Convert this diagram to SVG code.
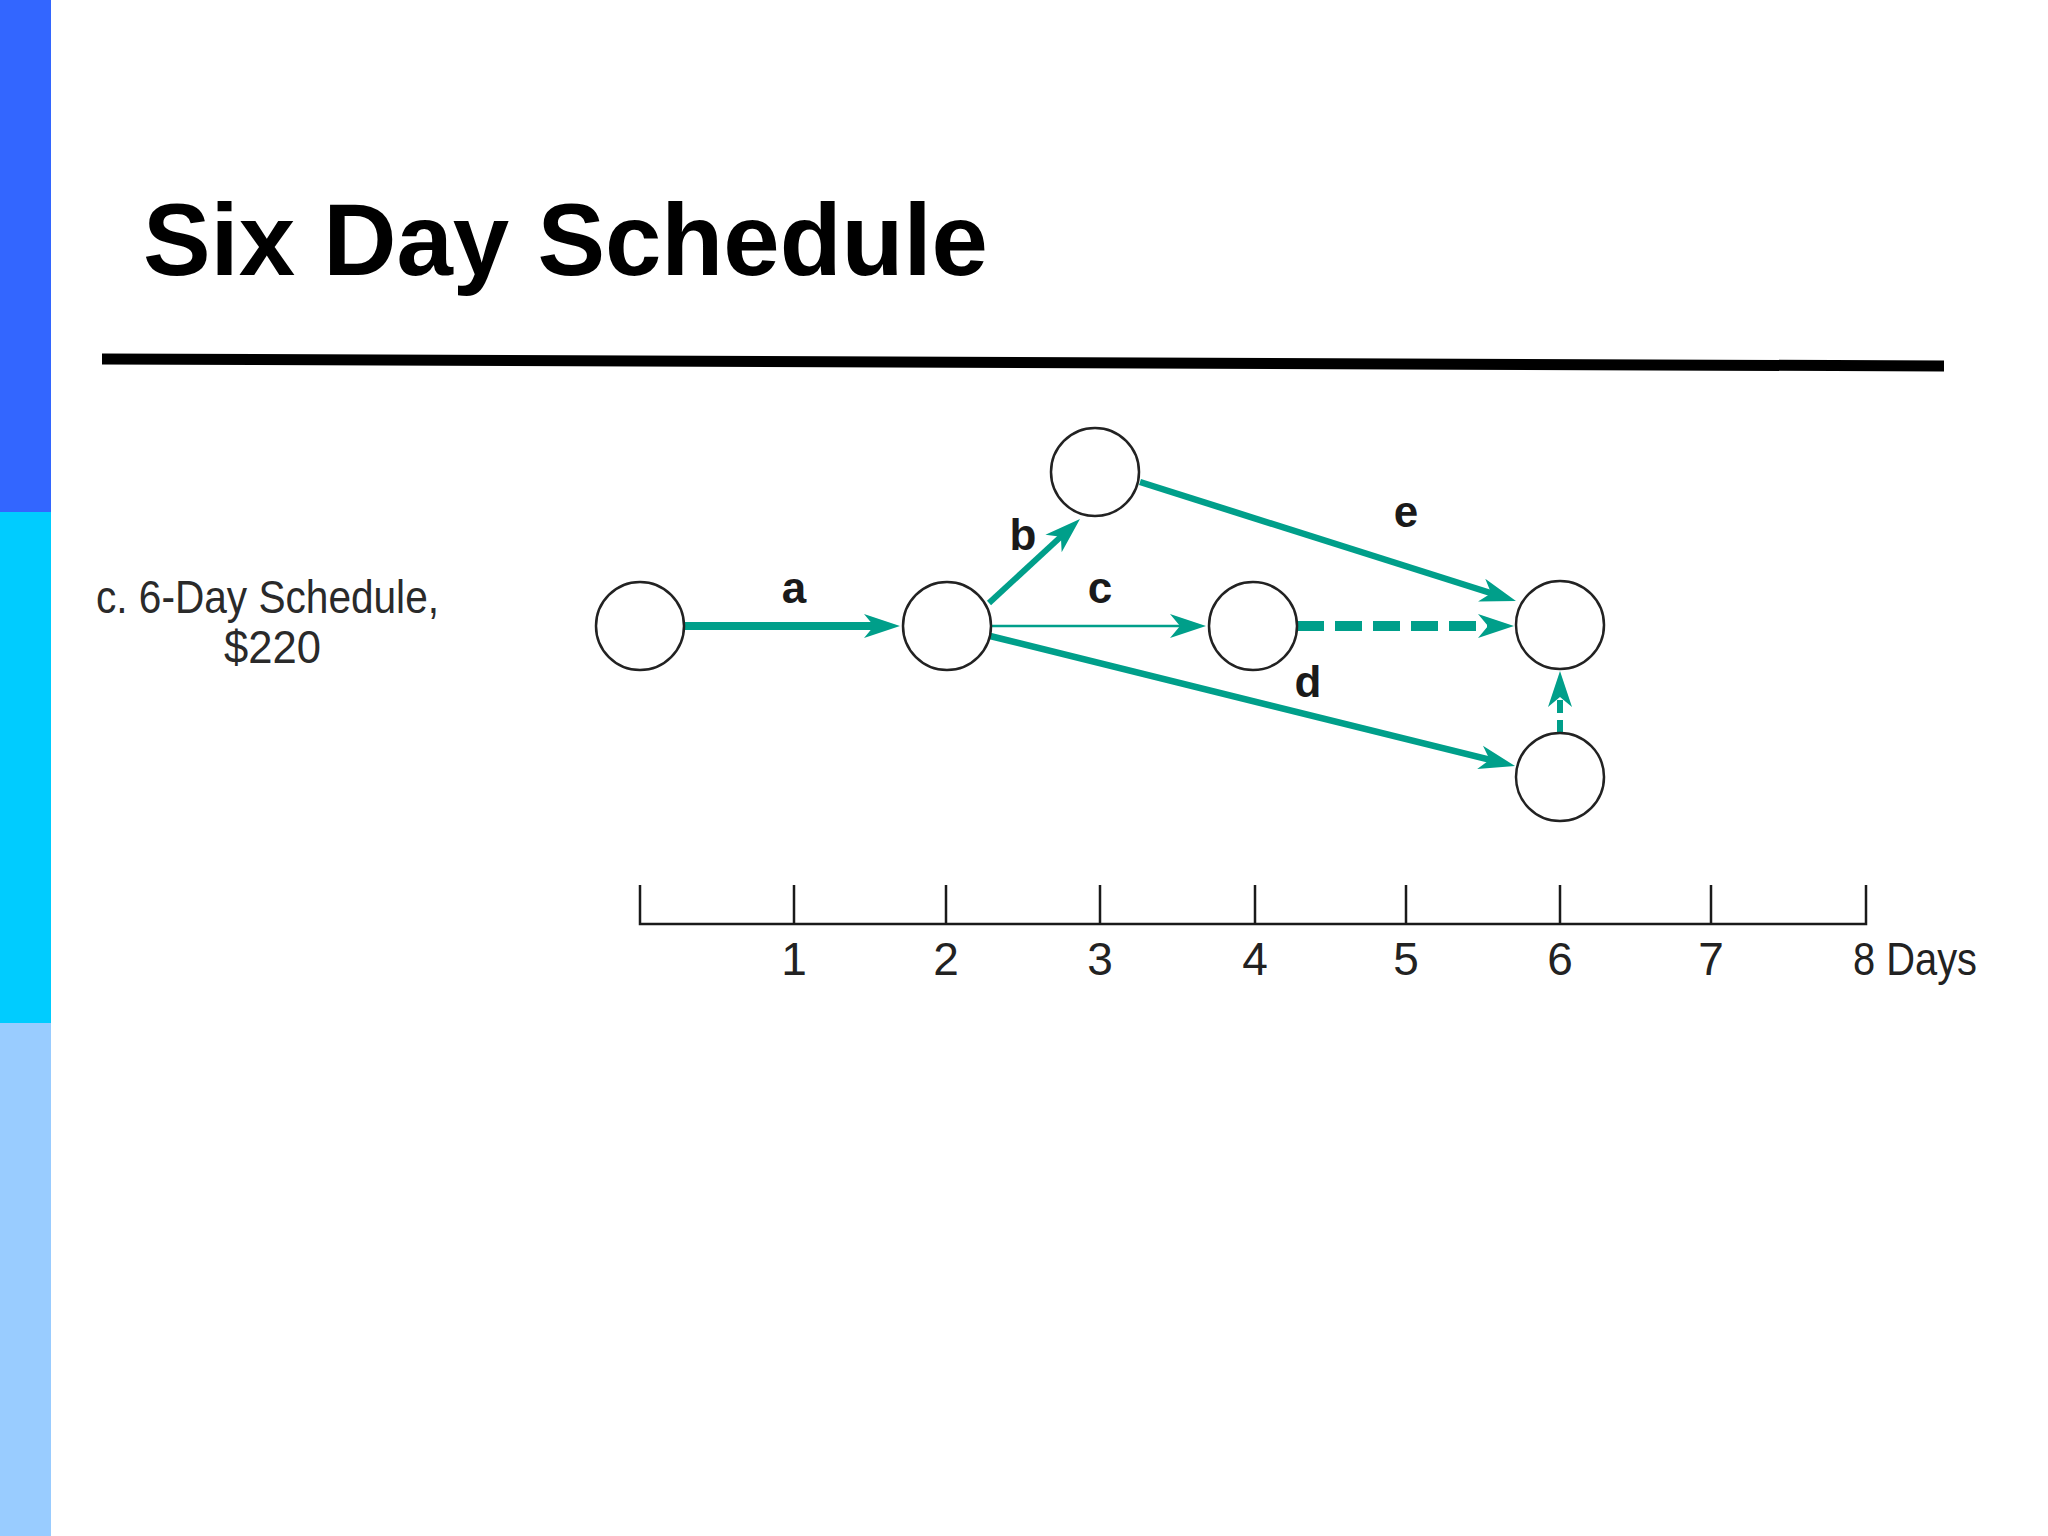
<svg xmlns="http://www.w3.org/2000/svg" width="2048" height="1536" viewBox="0 0 2048 1536">
<style>
.node{fill:#ffffff;stroke:#222222;stroke-width:2.5}
.edge{stroke:#009f8a;fill:none;stroke-linecap:butt}
.elbl{font-family:"Liberation Sans",Arial,sans-serif;font-weight:bold;font-size:44px;fill:#1a1a1a;text-anchor:middle}
.ax{font-family:"Liberation Sans",Arial,sans-serif;font-size:46px;fill:#222222;text-anchor:middle}
.axis{stroke:#1a1a1a;stroke-width:2.5;fill:none}
</style>
<defs>
<marker id="ah" markerUnits="userSpaceOnUse" viewBox="0 -13 38 26" markerWidth="38" markerHeight="26" refX="16" refY="0" orient="auto">
<path d="M36,0 L0,-12 L10,0 L0,12 Z" fill="#009f8a"/>
</marker>
</defs>
<rect x="0" y="0" width="2048" height="1536" fill="#ffffff"/>
<rect x="0" y="0" width="51" height="512" fill="#3366ff"/>
<rect x="0" y="512" width="51" height="511" fill="#00ccff"/>
<rect x="0" y="1023" width="51" height="513" fill="#99ccff"/>
<text x="143" y="275" font-family="Liberation Sans, Arial, sans-serif" font-weight="bold" font-size="102" textLength="845" lengthAdjust="spacingAndGlyphs" fill="#000000">Six Day Schedule</text>
<line x1="102" y1="359" x2="1944" y2="366" stroke="#000000" stroke-width="11"/>
<g id="caption" font-family="Liberation Sans, Arial, sans-serif" font-size="47" fill="#2a2a2a">
<text x="96" y="613" textLength="343" lengthAdjust="spacingAndGlyphs">c. 6-Day Schedule,</text>
<text x="224" y="663" textLength="97" lengthAdjust="spacingAndGlyphs">$220</text>
</g>
<g id="connectors">
<line class="edge" x1="684" y1="626" x2="880" y2="626" stroke-width="8" marker-end="url(#ah)"/>
<line class="edge" x1="989" y1="603" x2="1065.3" y2="532.6" stroke-width="6" marker-end="url(#ah)"/>
<line class="edge" x1="992" y1="626" x2="1186" y2="626" stroke-width="2.5" marker-end="url(#ah)"/>
<line class="edge" x1="1297" y1="626" x2="1494" y2="626" stroke-width="10" stroke-dasharray="27 11" marker-end="url(#ah)"/>
<line class="edge" x1="1140" y1="482" x2="1496.9" y2="595" stroke-width="6.5" marker-end="url(#ah)"/>
<line class="edge" x1="990" y1="636" x2="1495.6" y2="761.2" stroke-width="6.5" marker-end="url(#ah)"/>
<line class="edge" x1="1560" y1="733" x2="1560" y2="691" stroke-width="6" stroke-dasharray="13 7" marker-end="url(#ah)"/>
<text class="elbl" x="794" y="603">a</text>
<text class="elbl" x="1023" y="550">b</text>
<text class="elbl" x="1100" y="603">c</text>
<text class="elbl" x="1406" y="527">e</text>
<text class="elbl" x="1308" y="697">d</text>
</g>
<g id="n1"><circle class="node" cx="640" cy="626" r="44"/></g>
<g id="n2"><circle class="node" cx="947" cy="626" r="44"/></g>
<g id="n3"><circle class="node" cx="1095" cy="472" r="44"/></g>
<g id="n4"><circle class="node" cx="1253" cy="626" r="44"/></g>
<g id="n5"><circle class="node" cx="1560" cy="625" r="44"/></g>
<g id="n6"><circle class="node" cx="1560" cy="777" r="44"/></g>
<g id="axis">
<path class="axis" d="M640,885 V924 H1866 V885 M794,885 V924 M946,885 V924 M1100,885 V924 M1255,885 V924 M1406,885 V924 M1560,885 V924 M1711,885 V924"/>
<text class="ax" x="794" y="975">1</text>
<text class="ax" x="946" y="975">2</text>
<text class="ax" x="1100" y="975">3</text>
<text class="ax" x="1255" y="975">4</text>
<text class="ax" x="1406" y="975">5</text>
<text class="ax" x="1560" y="975">6</text>
<text class="ax" x="1711" y="975">7</text>
<text x="1853" y="975" font-family="Liberation Sans, Arial, sans-serif" font-size="46" fill="#222222" textLength="124" lengthAdjust="spacingAndGlyphs">8 Days</text>
</g>
</svg>
